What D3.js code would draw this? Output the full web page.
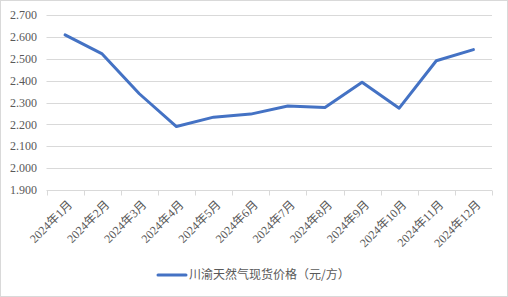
<!DOCTYPE html>
<html>
<head>
<meta charset="utf-8">
<script src="https://cdn.jsdelivr.net/npm/d3@7"></script>
<style>
  body { margin: 0; background: #fff; }
</style>
</head>
<body>
<div id="chart"></div>
<script>
// datos del grafico
const meses = ["2024年1月", "2024年2月", "2024年3月", "2024年4月", "2024年5月", "2024年6月",
  "2024年7月", "2024年8月", "2024年9月", "2024年10月", "2024年11月", "2024年12月"];
const precios = [2.609, 2.522, 2.340, 2.190, 2.233, 2.247, 2.284, 2.277, 2.393, 2.274, 2.491, 2.542];
const yTicks = [1.9, 2.0, 2.1, 2.2, 2.3, 2.4, 2.5, 2.6, 2.7];
const serie = "川渝天然气现货价格（元/方）";

const W = 508, H = 297;
const margin = { left: 46.5, right: 16, top: 15, bottom: 107 };

const svg = d3.select("#chart").append("svg")
  .attr("width", W).attr("height", H);

// borde del grafico
svg.append("rect")
  .attr("x", 0.5).attr("y", 0.5)
  .attr("width", W - 1).attr("height", H - 1)
  .attr("fill", "#fff").attr("stroke", "#d9d9d9");

const x = d3.scaleBand().domain(meses)
  .range([margin.left, W - margin.right]);
const y = d3.scaleLinear().domain([1.9, 2.7])
  .range([H - margin.bottom, margin.top]);

// lineas de cuadricula
svg.append("g")
  .selectAll("line").data(yTicks.slice(1)).join("line")
  .attr("x1", margin.left).attr("x2", W - margin.right)
  .attr("y1", d => Math.round(y(d)) + 0.5).attr("y2", d => Math.round(y(d)) + 0.5)
  .attr("stroke", "#d9d9d9");

// eje y (solo etiquetas)
svg.append("g")
  .selectAll("text").data(yTicks).join("text")
  .attr("x", 37).attr("y", d => y(d))
  .attr("dy", "0.35em")
  .attr("text-anchor", "end")
  .attr("font-family", "'Liberation Serif', 'Times New Roman', serif")
  .attr("font-size", 12)
  .attr("fill", "#595959")
  .text(d => d3.format(".3f")(d));

// eje x
const xAxis = svg.append("g")
  .attr("transform", `translate(0,${Math.round(y(1.9)) + 0.5})`);
xAxis.append("line")
  .attr("x1", margin.left).attr("x2", W - margin.right)
  .attr("stroke", "#d9d9d9");
const bordes = meses.map(m => x(m)).concat([W - margin.right]);
xAxis.selectAll("line.tick").data(bordes).join("line")
  .attr("class", "tick")
  .attr("x1", d => Math.round(d) + 0.5).attr("x2", d => Math.round(d) + 0.5)
  .attr("y1", 0).attr("y2", 5)
  .attr("stroke", "#d9d9d9");

xAxis.selectAll("text").data(meses).join("text")
  .attr("transform", d => `translate(${x(d) + x.bandwidth() / 2 + 5},${12}) rotate(-45)`)
  .attr("text-anchor", "end")
  .attr("dy", "0.35em")
  .attr("font-family", "'Liberation Serif', 'Noto Sans CJK SC', serif")
  .attr("font-size", 12)
  .attr("fill", "#595959")
  .text(d => d);

// linea de la serie
const linea = d3.line()
  .x((d, i) => x(meses[i]) + x.bandwidth() / 2)
  .y(d => y(d));

svg.append("path")
  .datum(precios)
  .attr("d", linea)
  .attr("fill", "none")
  .attr("stroke", "#4472c4")
  .attr("stroke-width", 3)
  .attr("stroke-linejoin", "round")
  .attr("stroke-linecap", "round");

// leyenda
const ley = svg.append("g").attr("transform", "translate(158,275)");
ley.append("line")
  .attr("x1", 0).attr("x2", 28)
  .attr("stroke", "#4472c4").attr("stroke-width", 3)
  .attr("stroke-linecap", "round");
ley.append("text")
  .attr("x", 31).attr("dy", "0.35em")
  .attr("font-family", "'Noto Sans CJK SC', sans-serif")
  .attr("font-size", 12)
  .attr("fill", "#595959")
  .text(serie);
</script>
</body>
</html>
